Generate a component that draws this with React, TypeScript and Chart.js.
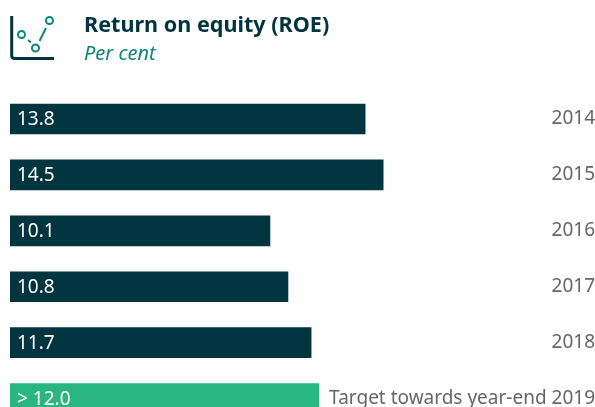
import React, { useEffect, useRef } from "react";
import { Chart, registerables } from "chart.js";

Chart.register(...registerables);

const categories = ["2014", "2015", "2016", "2017", "2018", "Target towards year-end 2019"];
const values = [13.8, 14.5, 10.1, 10.8, 11.7, 12.0];
const valueLabels = ["13.8", "14.5", "10.1", "10.8", "11.7", "> 12.0"];
const barColors = ["#00343F", "#00343F", "#00343F", "#00343F", "#00343F", "#2AB683"];
const titleText = "Return on equity (ROE)";
const subtitleText = "Per cent";
const FONT = '"Noto Sans", sans-serif';

const valueLabelPlugin = {
  id: "valueLabels",
  afterDatasetsDraw(chart: any) {
    const ctx = chart.ctx;
    const meta = chart.getDatasetMeta(0);
    ctx.save();
    ctx.font = `19px ${FONT}`;
    ctx.fillStyle = "#ffffff";
    ctx.textAlign = "left";
    ctx.textBaseline = "middle";
    meta.data.forEach((bar: any, i: number) => {
      ctx.fillText(valueLabels[i], bar.base + 7, bar.y + 1);
    });
    ctx.restore();
  },
};

export default function App() {
  const ref = useRef<HTMLCanvasElement>(null);
  useEffect(() => {
    document.body.style.margin = "0";
    document.body.style.overflow = "hidden";
    const chart = new Chart(ref.current!, {
      type: "bar",
      data: {
        labels: categories,
        datasets: [{ data: values, backgroundColor: barColors, barThickness: 30, borderWidth: 0 }],
      },
      options: {
        indexAxis: "y",
        responsive: false,
        animation: false,
        layout: { padding: { top: 91, left: 10, right: 0, bottom: 0 } },
        plugins: { legend: { display: false }, tooltip: { enabled: false }, title: { display: false } },
        scales: {
          x: { display: false, min: 0, max: 22.73 },
          y: {
            position: "right",
            grid: { display: false, drawTicks: false },
            border: { display: false },
            ticks: {
              mirror: true,
              padding: 0,
              color: "#666666",
              font: { family: FONT, size: 19 },
              autoSkip: false,
            },
          },
        },
      },
      plugins: [valueLabelPlugin],
    } as any);
    return () => chart.destroy();
  }, []);

  return (
    <div style={{ position: "relative", width: 595, height: 407, overflow: "hidden", background: "#fff" }}>
      <canvas ref={ref} width={595} height={438} style={{ display: "block", width: 595, height: 438 }} />
      <svg width="60" height="64" style={{ position: "absolute", left: 0, top: 0 }}>
        <path d="M11.7 16 V55.5 Q11.7 58.5 14.7 58.5 H54" fill="none" stroke="#00343F" strokeWidth="3" />
        <g fill="none" stroke="#0F8580" strokeWidth="2">
          <circle cx="21.5" cy="34.5" r="3.5" />
          <circle cx="35.5" cy="48" r="3.5" />
          <circle cx="49.5" cy="20.5" r="3.5" />
          <path d="M39.5 41 L46 28" />
          <path d="M28 40 L31 42.5" />
        </g>
      </svg>
      <div style={{ position: "absolute", left: 84, top: 9, font: `bold 21.6px ${FONT}`, color: "#00343F", whiteSpace: "nowrap" }}>{titleText}</div>
      <div style={{ position: "absolute", left: 84, top: 39, font: `italic 20px ${FONT}`, color: "#0F8580", whiteSpace: "nowrap" }}>{subtitleText}</div>
    </div>
  );
}
